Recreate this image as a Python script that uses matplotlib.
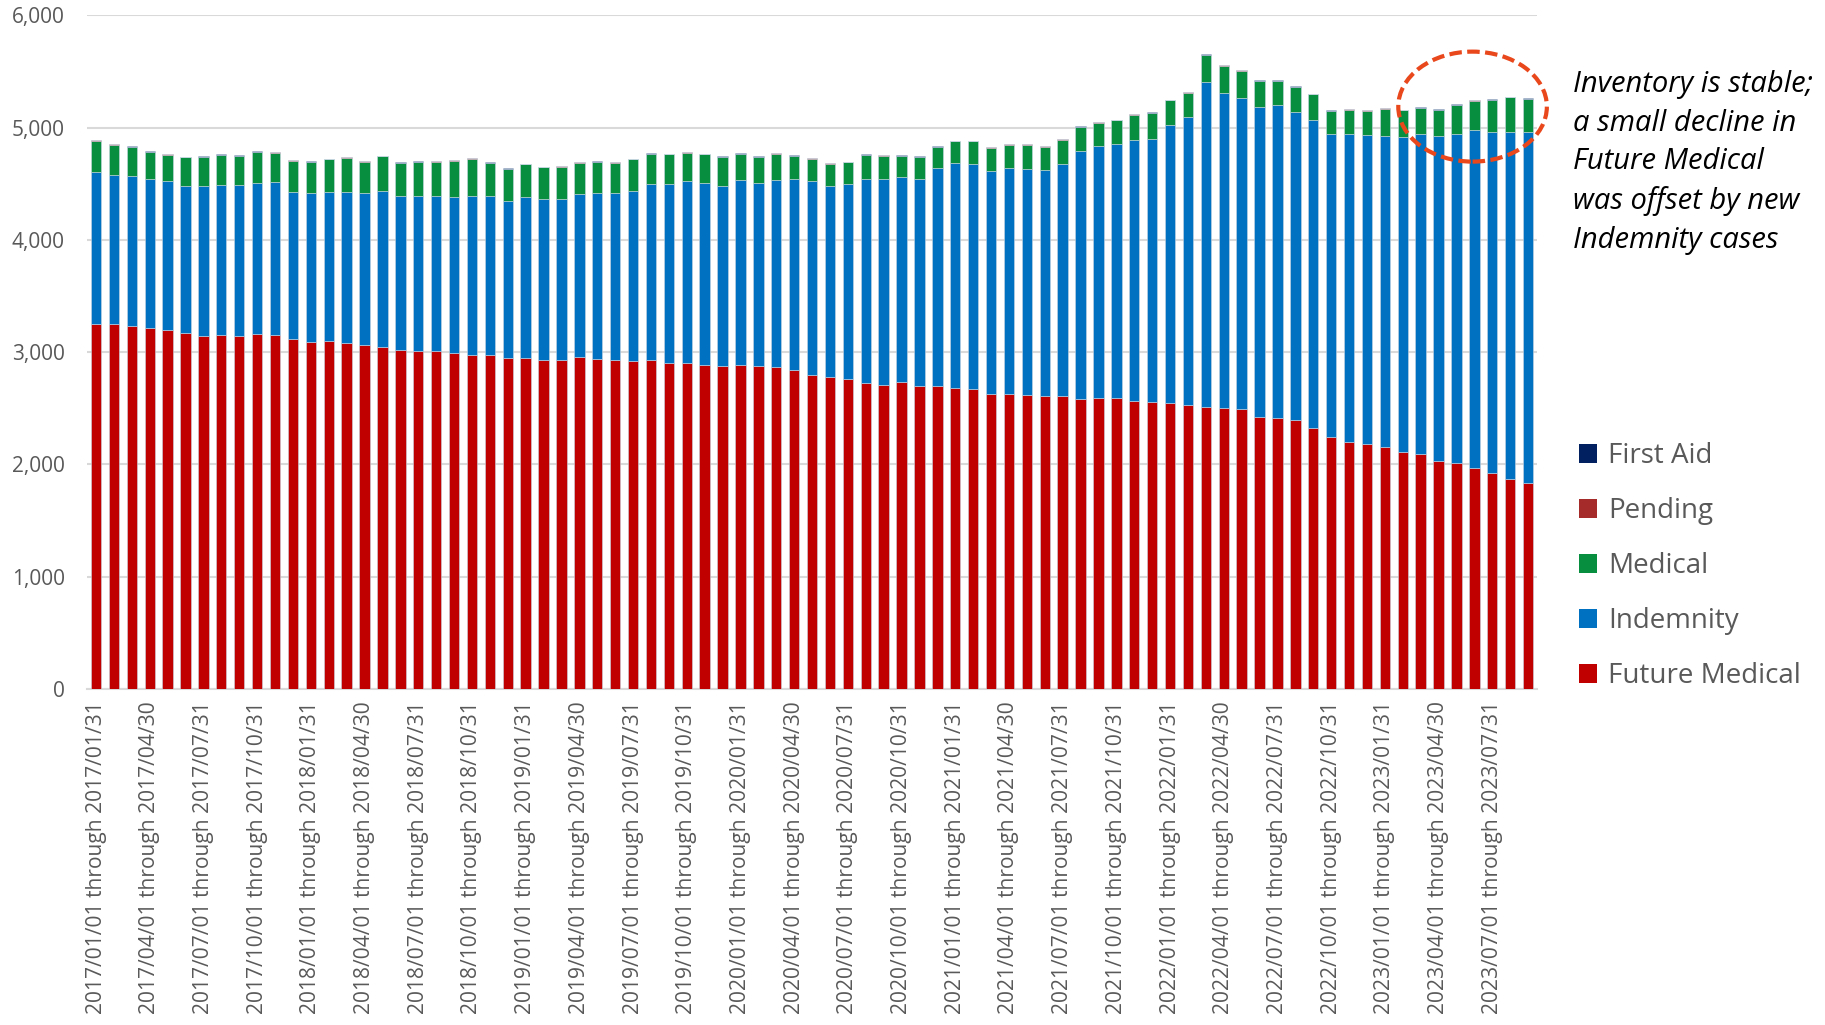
import calendar
import matplotlib
matplotlib.use("Agg")
import matplotlib.pyplot as plt
from matplotlib.patches import Ellipse, Patch
import numpy as np

# month-by-month periods, 2017/01 .. 2023/09
period_labels = []
for year in range(2017, 2024):
    for month in range(1, 13):
        if year == 2023 and month > 9:
            break
        last_day = calendar.monthrange(year, month)[1]
        period_labels.append(f"{year}/{month:02d}/01 through {year}/{month:02d}/{last_day:02d}")

future_medical = [3248, 3248, 3230, 3218, 3194, 3167, 3147, 3153, 3147, 3162,
                  3150, 3114, 3090, 3096, 3078, 3061, 3043, 3019, 3010, 3007,
                  2992, 2974, 2974, 2948, 2945, 2927, 2930, 2954, 2939, 2933,
                  2921, 2933, 2906, 2900, 2883, 2873, 2883, 2877, 2871, 2838,
                  2799, 2775, 2758, 2722, 2707, 2731, 2698, 2701, 2680, 2668,
                  2629, 2629, 2614, 2606, 2606, 2585, 2588, 2588, 2561, 2558,
                  2543, 2533, 2510, 2501, 2489, 2421, 2412, 2394, 2326, 2240,
                  2198, 2183, 2157, 2112, 2088, 2032, 2008, 1966, 1925, 1866,
                  1833]
indemnity = [1354, 1333, 1339, 1325, 1328, 1313, 1333, 1336, 1339, 1345,
             1363, 1313, 1328, 1328, 1349, 1354, 1393, 1372, 1378, 1384,
             1390, 1417, 1414, 1399, 1434, 1437, 1431, 1455, 1479, 1485,
             1512, 1565, 1589, 1622, 1624, 1610, 1648, 1630, 1666, 1705,
             1726, 1705, 1740, 1821, 1836, 1829, 1845, 1940, 2005, 2008,
             1985, 2009, 2015, 2020, 2070, 2204, 2246, 2266, 2329, 2341,
             2481, 2562, 2897, 2805, 2773, 2760, 2787, 2746, 2742, 2701,
             2746, 2752, 2769, 2802, 2853, 2891, 2933, 3010, 3039, 3098,
             3131]
medical = [282, 267, 259, 240, 237, 256, 259, 268, 259, 276,
           264, 279, 276, 294, 306, 282, 309, 294, 306, 306,
           324, 333, 297, 285, 294, 283, 291, 279, 276, 270,
           285, 268, 267, 255, 255, 256, 235, 229, 231, 204,
           199, 199, 193, 213, 207, 187, 196, 187, 193, 202,
           208, 210, 219, 205, 217, 217, 210, 211, 226, 232,
           219, 217, 240, 246, 246, 235, 217, 222, 229, 207,
           216, 216, 243, 240, 234, 234, 261, 265, 282, 306,
           291]
pending = [2, 2, 2, 2, 2, 2, 2, 3, 2, 2,
           2, 2, 2, 2, 2, 2, 2, 2, 2, 2,
           2, 2, 2, 2, 2, 2, 2, 2, 2, 2,
           2, 2, 2, 2, 2, 2, 2, 2, 2, 2,
           2, 2, 2, 2, 2, 2, 2, 2, 2, 2,
           2, 2, 2, 2, 2, 2, 2, 2, 2, 2,
           2, 2, 2, 2, 2, 2, 2, 2, 2, 2,
           2, 2, 2, 2, 2, 2, 2, 2, 2, 2,
           2]
first_aid = [4, 4, 4, 4, 4, 4, 4, 6, 5, 4,
             4, 4, 4, 4, 4, 4, 4, 4, 4, 4,
             4, 4, 4, 4, 4, 4, 4, 4, 4, 5,
             4, 6, 5, 5, 5, 4, 6, 5, 5, 4,
             4, 4, 4, 5, 5, 5, 5, 4, 4, 4,
             4, 4, 5, 5, 4, 4, 5, 5, 4, 4,
             4, 4, 4, 5, 5, 5, 5, 4, 4, 4,
             4, 4, 4, 4, 4, 4, 4, 4, 4, 4,
             4]

series = [("Future Medical", future_medical, "#C00000"),
          ("Indemnity", indemnity, "#0070C0"),
          ("Medical", medical, "#078F3F"),
          ("Pending", pending, "#A52A2A"),
          ("First Aid", first_aid, "#002060")]

plt.rcParams['font.family'] = ['Open Sans', 'DejaVu Sans']

fig = plt.figure(figsize=(18.25, 10.25), dpi=100)
ax = fig.add_axes([0.0477, 0.328, 0.7945, 0.657])

x = np.arange(len(period_labels))
bottom = np.zeros(len(x))
for name, vals, col in series:
    vals = np.array(vals, dtype=float)
    ax.bar(x, vals, bottom=bottom, width=0.58, color=col, label=name,
           edgecolor="#c9d6e3", linewidth=0.4, zorder=3)
    bottom += vals

ax.set_xlim(-0.5, len(x) - 0.5)
ax.set_ylim(0, 6000)
ax.set_yticks(range(0, 6001, 1000))
ax.set_yticklabels([f"{v:,}" for v in range(0, 6001, 1000)])
ax.set_xticks(x[::3])
ax.set_xticklabels(period_labels[::3], rotation=90)
ax.tick_params(axis='both', length=0, labelsize=15, labelcolor="#595959")
ax.tick_params(axis='y', pad=16)
ax.tick_params(axis='x', pad=9, labelsize=15.1)
ax.grid(axis='y', color="#d9d9d9", linewidth=1.5, zorder=0)
for s in ['top', 'right', 'left']:
    ax.spines[s].set_visible(False)
ax.spines['bottom'].set_color("#d9d9d9")
ax.spines['bottom'].set_linewidth(1.5)

# dashed callout circle around the latest months
ring = Ellipse((76.9, 5187), width=8.3, height=980, fill=False,
               edgecolor="#E9471C", linewidth=3, linestyle=(0, (3, 1.3)),
               clip_on=False, zorder=5)
ax.add_patch(ring)

fig.text(1573 / 1825, 1 - 70 / 1025,
         "Inventory is stable;\na small decline in\nFuture Medical\nwas offset by new\nIndemnity cases",
         fontsize=21, style='italic', color="black", va='top', ha='left',
         linespacing=1.44)

handles = [Patch(facecolor=col, label=name) for name, vals, col in series][::-1]
fig.legend(handles=handles, loc='center left', bbox_to_anchor=(0.865, 0.4476),
           frameon=False, fontsize=20, labelcolor="#595959", handlelength=0.65,
           handleheight=0.65, handletextpad=0.4, labelspacing=0.97,
           borderpad=0, borderaxespad=0)

fig.savefig("out.png", dpi=100)
